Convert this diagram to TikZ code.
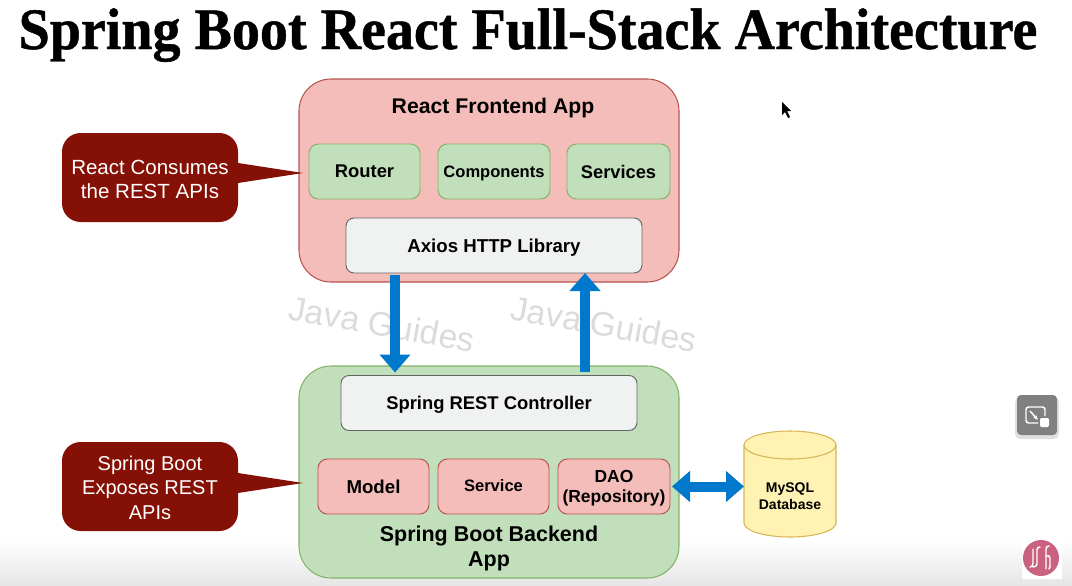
\documentclass[tikz,border=0pt]{standalone}
\usepackage{fontspec}
\setmainfont{Liberation Sans}
\newfontfamily\titlefont[BoldFeatures={FakeBold=0.8}]{Liberation Serif}
\usetikzlibrary{arrows.meta}
\definecolor{pinkfill}{HTML}{F4BDBA}
\definecolor{pinkline}{HTML}{B85450}
\definecolor{greenfill}{HTML}{C2DFBB}
\definecolor{greenline}{HTML}{82B366}
\definecolor{greyfill}{HTML}{F0F2F1}
\definecolor{greyline}{HTML}{666666}
\definecolor{calloutred}{HTML}{851005}
\definecolor{blockblue}{HTML}{0078CC}
\definecolor{dbfill}{HTML}{FFF2B3}
\definecolor{dbline}{HTML}{D6B656}
\definecolor{wmgrey}{HTML}{DADCDC}
\definecolor{logopink}{HTML}{C9617F}
\newcommand{\fsz}[1]{\fontsize{#1}{18.75pt}\selectfont\bfseries}
\tikzset{
  wh/.style 2 args={minimum width=#1*0.75pt,minimum height=#2*0.75pt,inner sep=0pt,outer sep=0pt},
  fs/.style={font=\fsz{#1}},
  outerpink/.style={draw=pinkline,fill=pinkfill,line width=0.8pt,rounded corners=24pt},
  outergreen/.style={draw=greenline,fill=greenfill,line width=0.8pt,rounded corners=24pt},
  innerpink/.style={draw=pinkline,fill=pinkfill,line width=0.7pt,rounded corners=7pt,align=center},
  innergreen/.style={draw=greenline,fill=greenfill,line width=0.7pt,rounded corners=7pt,align=center},
  innergrey/.style={draw=greyline,fill=greyfill,line width=0.7pt,rounded corners=6pt,align=center},
  callout/.style={fill=calloutred,text=white,rounded corners=14pt,align=center,font=\fontsize{15.4}{18.2}\selectfont},
  calloutb/.style={callout,font=\fontsize{15}{18.2}\selectfont},
  blockarrow/.style={draw=blockblue,line width=7.5pt},
  watermark/.style={text=wmgrey,rotate=-10,font=\fontsize{25.4}{30}\selectfont},
  heading/.style={align=center,inner sep=0pt},
  logostroke/.style={white,line width=1.1pt,line cap=round},
}
\begin{document}
\begin{tikzpicture}[x=0.75pt,y=-0.75pt]
\useasboundingbox (0,0) rectangle (1072,586);
\shade[top color=white,bottom color=black!10] (0,540) rectangle (1072,586);
\node[heading,anchor=base,transform shape,xscale=0.955,font=\titlefont\fontsize{44}{50}\selectfont\bfseries] (title) at (528,49) {Spring Boot React Full-Stack Architecture};

% outer containers
\node[outerpink,wh={380}{203}] (front) at (489,180.5) {};
\node[outergreen,wh={380}{212}] (back) at (489,472) {};
\node[heading,fs=15.9] (fronttitle) at (493,108) {React Frontend App};
\node[heading,fs=16.1] (backtitle) at (489,548.5) {Spring Boot Backend\\App};

% inner boxes
\node[innergreen,wh={111}{55},fs=13.8] (router) at (364.5,171.5) {Router};
\node[innergreen,wh={112}{55},fs=12.4,text depth=0pt] (components) at (494,171.5) {Components};
\node[innergreen,wh={103}{55},fs=13.7] (services) at (618.5,171.5) {Services};
\node[innergrey,wh={296}{55},fs=14,text depth=0pt] (axios) at (494,245.5) {Axios HTTP Library};
\node[innergrey,wh={296}{55},fs=13.8,text depth=0pt] (ctrl) at (489,403) {Spring REST Controller};
\node[innerpink,wh={111}{55},fs=14] (model) at (373.5,486.5) {Model};
\node[innerpink,wh={111}{55},fs=12.4] (service) at (493.5,486.5) {\raisebox{0.75pt}{Service}};
\node[innerpink,wh={112}{55},fs=13.1,text depth=0pt] (dao) at (614,486.5) {DAO\\[-3.5pt](Repository)};

% watermarks
\node[watermark] (wm1) at (382,324) {Java Guides};
\node[watermark] (wm2) at (604,324) {Java Guides};

% callouts
\coordinate (tipa) at (303,173);
\coordinate (tipb) at (303,483);
\node[callout,wh={176}{89}] (calla) at (150,177.5) {\rule{0pt}{13.5pt}React Consumes\\the REST APIs};
\node[calloutb,wh={176}{89}] (callb) at (150,486.5) {\rule{0pt}{12.5pt}Spring Boot\\Exposes REST\\APIs};
\fill[calloutred] ([yshift=7.5pt]calla.east |- tipa) -- ([yshift=-7.5pt]calla.east |- tipa) -- (tipa) -- cycle;
\fill[calloutred] ([yshift=7.5pt]callb.east |- tipb) -- ([yshift=-7.5pt]callb.east |- tipb) -- (tipb) -- cycle;

% database
\node[wh={92}{106}] (db) at (790,484) {};
\path[draw=dbline,fill=dbfill,line width=0.8pt]
  (744,445) -- (744,523) arc[start angle=180,end angle=0,x radius=46,y radius=14]
  -- (836,445) arc[start angle=0,end angle=-180,x radius=46,y radius=14] -- cycle;
\draw[dbline,line width=0.8pt] (744,445) arc[start angle=180,end angle=0,x radius=46,y radius=14];
\node[heading,fs=10.5] (dblabel) at (790,496) {MySQL\\[-6pt]Database};

% block arrows
\draw[blockarrow,-{Triangle[length=13.5pt,width=22.5pt]}] ([xshift=-74.25pt,yshift=-1.5pt]axios.south) -- ([xshift=-70.5pt,yshift=2.25pt]ctrl.north);
\draw[blockarrow,-{Triangle[length=13.5pt,width=22.5pt]}] ([xshift=72pt,yshift=3pt]ctrl.north) -- ([xshift=68.25pt]axios.south);
\draw[blockarrow,{Triangle[length=13.5pt,width=22.5pt]}-{Triangle[length=13.5pt,width=22.5pt]}] ([xshift=1.5pt]dao.east) -- (dao.east -| db.west);

% cursor
\fill[black] (782,102) -- (782,115) -- (785,112) -- (788,118) -- (790,117) -- (787,111) -- (791,111) -- cycle;

% player button
\fill[black!12,rounded corners=4pt] (1015,397) rectangle (1059,439);
\fill[black!50,rounded corners=3pt] (1017,395) rectangle (1057,435);
\draw[white,line width=1.1pt,rounded corners=2pt] (1038,423) -- (1026,423) -- (1026,407) -- (1045,407) -- (1045,416);
\draw[white,line width=1.1pt,-{Stealth[length=4pt]}] (1030,411) -- (1038,420);
\fill[white,rounded corners=1pt] (1040,418) rectangle (1049,427);

% logo
\fill[white] (1022,540) rectangle (1062,579);
\fill[logopink] (1041,558) circle[radius=18];
\draw[logostroke] (1033,549) -- (1033,563) .. controls (1033,566) and (1032,567) .. (1030,567);
\draw[logostroke] (1040,547) .. controls (1038,547) and (1037,548) .. (1037,550) -- (1037,564) .. controls (1037,566) and (1035,567) .. (1033,567);
\draw[logostroke] (1049,546) .. controls (1047,546) and (1046,547) .. (1046,549) -- (1046,569);
\draw[logostroke] (1046,556) .. controls (1048,555) and (1050,556) .. (1050,558) -- (1050,565) .. controls (1050,566) and (1050,568) .. (1049,569);
\end{tikzpicture}
\end{document}
